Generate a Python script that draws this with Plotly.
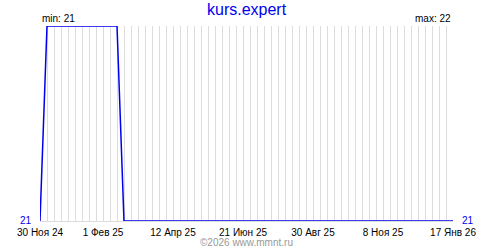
import pandas as pd
import plotly.graph_objects as go

# weekly observation dates (x categories)
start_date = "2024-11-30"
end_date = "2026-01-17"
dates = pd.date_range(start_date, end_date, freq="7D")

# weekly values
values = [21,
          22, 22, 22, 22, 22, 22, 22, 22, 22, 22, 22,
          21, 21, 21, 21, 21, 21, 21, 21, 21, 21, 21, 21,
          21, 21, 21, 21, 21, 21, 21, 21, 21, 21, 21, 21,
          21, 21, 21, 21, 21, 21, 21, 21, 21, 21, 21, 21,
          21, 21, 21, 21, 21, 21, 21, 21, 21, 21, 21, 21]

tick_dates = ["2024-11-30", "2025-02-01", "2025-04-12", "2025-06-21",
              "2025-08-30", "2025-11-08", "2026-01-17"]
tick_labels = ["30 Ноя 24", "1 Фев 25", "12 Апр 25", "21 Июн 25",
               "30 Авг 25", "8 Ноя 25", "17 Янв 26"]

title_text = "kurs.expert"
min_text = "min: 21"
max_text = "max: 22"
first_value_text = "21"
last_value_text = "21"
footer_text = "©2026 www.mmnt.ru"

FONT = "Liberation Sans"
BLUE = "#0000ee"

fig = go.Figure()
fig.add_trace(go.Scatter(
    x=dates[:len(values)], y=values, mode="lines",
    line=dict(color=BLUE, width=1.5), hoverinfo="skip", showlegend=False,
))

fig.update_layout(
    width=500, height=250,
    margin=dict(l=40, r=47, t=26, b=25),
    paper_bgcolor="white", plot_bgcolor="white",
    font=dict(family=FONT, size=10, color="black"),
    xaxis=dict(
        type="date",
        range=[start_date, end_date],
        tickmode="array", tickvals=tick_dates, ticktext=tick_labels,
        showgrid=True, gridcolor="#ffcccc", gridwidth=1,
        minor=dict(tickmode="linear", tick0=start_date, dtick=7 * 86400000,
                   showgrid=True, gridcolor="#dddddd", gridwidth=1, ticklen=0),
        showline=True, linecolor="#dddddd", linewidth=1, layer="below traces",
        ticks="", ticklen=0, zeroline=False, ticklabelstandoff=2,
        tickfont=dict(family=FONT, size=10, color="black"),
        fixedrange=True,
    ),
    yaxis=dict(
        range=[21, 22], showgrid=False, zeroline=False, showticklabels=False,
        ticks="", showline=False, fixedrange=True,
    ),
    annotations=[
        dict(text=title_text, x=0.5, y=1, xref="paper", yref="paper",
             xanchor="center", yanchor="top", yshift=27, showarrow=False,
             font=dict(family=FONT, size=16, color=BLUE)),
        dict(text=min_text, x=0, y=1, xref="paper", yref="paper",
             xanchor="left", yanchor="bottom", yshift=0, showarrow=False,
             font=dict(family=FONT, size=10, color="black")),
        dict(text=max_text, x=1, y=1, xref="paper", yref="paper",
             xanchor="right", yanchor="bottom", yshift=0, showarrow=False,
             font=dict(family=FONT, size=10, color="black")),
        dict(text=first_value_text, x=0, y=values[0], xref="paper", yref="y",
             xanchor="right", yanchor="middle", xshift=-6, yshift=1, showarrow=False,
             font=dict(family=FONT, size=10, color=BLUE)),
        dict(text=last_value_text, x=1, y=values[-1], xref="paper", yref="y",
             xanchor="left", yanchor="middle", xshift=7, yshift=1, showarrow=False,
             font=dict(family=FONT, size=10, color=BLUE)),
        dict(text=footer_text, x=0.5, y=0, xref="paper", yref="paper",
             xanchor="center", yanchor="top", yshift=-15, borderpad=0,
             showarrow=False,
             font=dict(family=FONT, size=10, color="#999999")),
    ],
)

fig.write_html("out.html", config={"displayModeBar": False})
